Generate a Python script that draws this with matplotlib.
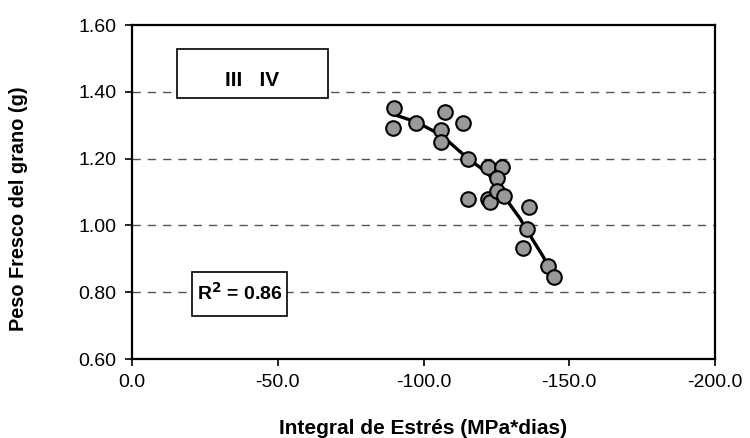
import matplotlib
matplotlib.use("Agg")
import matplotlib.pyplot as plt
from matplotlib.patches import Rectangle

plt.rcParams['font.family'] = ['Liberation Sans', 'DejaVu Sans']

# Data
stress_x = [-90.0, -89.4, -97.4, -107.5, -113.4, -106.0, -106.0, -115.4, -122.0, -126.8,
            -125.3, -115.4, -122.0, -122.8, -125.1, -127.7, -136.1, -135.4, -134.0,
            -142.6, -144.7]
peso_y = [1.352, 1.291, 1.306, 1.340, 1.306, 1.286, 1.251, 1.199, 1.176, 1.176,
          1.141, 1.079, 1.079, 1.069, 1.103, 1.089, 1.056, 0.988, 0.932,
          0.879, 0.846]

# Fitted trend curve
trend_x = [-89.4, -91.9, -97.4, -106.0, -115.4, -122.0, -125.3, -127.7, -133.1, -135.4, -141.1, -144.7]
trend_y = [1.333, 1.326, 1.310, 1.271, 1.199, 1.157, 1.116, 1.086, 1.021, 0.986, 0.906, 0.846]

yticks = [0.60, 0.80, 1.00, 1.20, 1.40, 1.60]
xticks = [0.0, -50.0, -100.0, -150.0, -200.0]
grid_levels = [0.80, 1.00, 1.20, 1.40]

W, H = 750, 438
fig = plt.figure(figsize=(7.5, 4.38), dpi=100)
ax = fig.add_axes([132/W, 1 - 359/H, (715-132)/W, (359-25)/H])

for g in grid_levels:
    ax.axhline(g, color='#555555', lw=1.0, dashes=(6, 5), zorder=1)

ax.plot(trend_x, trend_y, color='black', lw=2.4, zorder=3)
ax.plot(stress_x, peso_y, 'o', ms=10.5, mfc='#999999', mec='black', mew=1.5, zorder=4)

ax.set_xlim(0, -200)
ax.set_ylim(0.60, 1.60)
ax.set_xticks(xticks)
ax.set_xticklabels([f"{v:.1f}" for v in xticks])
ax.set_yticks(yticks)
ax.set_yticklabels([f"{v:.2f}" for v in yticks])
ax.tick_params(direction='out', length=5, width=1.2, labelsize=14, pad=6)
for s in ax.spines.values():
    s.set_linewidth(1.6)

fig.text(423/W, 1 - 429/H, "Integral de Estrés (MPa*dias)", ha='center', va='center',
         fontsize=15, fontweight='bold')
fig.text(19/W, 1 - 209/H, "Peso Fresco del grano (g)", ha='center', va='center',
         rotation=90, fontsize=14.3, fontweight='bold')

# Text boxes
def box(x0, x1, y0, y1, text, ty, size):
    fx0, fx1 = x0/W, x1/W
    fy0, fy1 = 1 - y1/H, 1 - y0/H
    r = Rectangle((fx0, fy0), fx1-fx0, fy1-fy0, transform=fig.transFigure,
                  facecolor='white', edgecolor='black', lw=1.2, zorder=5)
    fig.patches.append(r)
    fig.text((fx0+fx1)/2, 1 - ty/H, text, ha='center', va='center',
             fontsize=size, fontweight='bold', zorder=6)

box(177, 328, 49, 98, "III   IV", 80, 15)
box(192, 287, 272, 316, "R$^\\mathbf{2}$ = 0.86", 293, 14)

fig.savefig("out.png", dpi=100)
